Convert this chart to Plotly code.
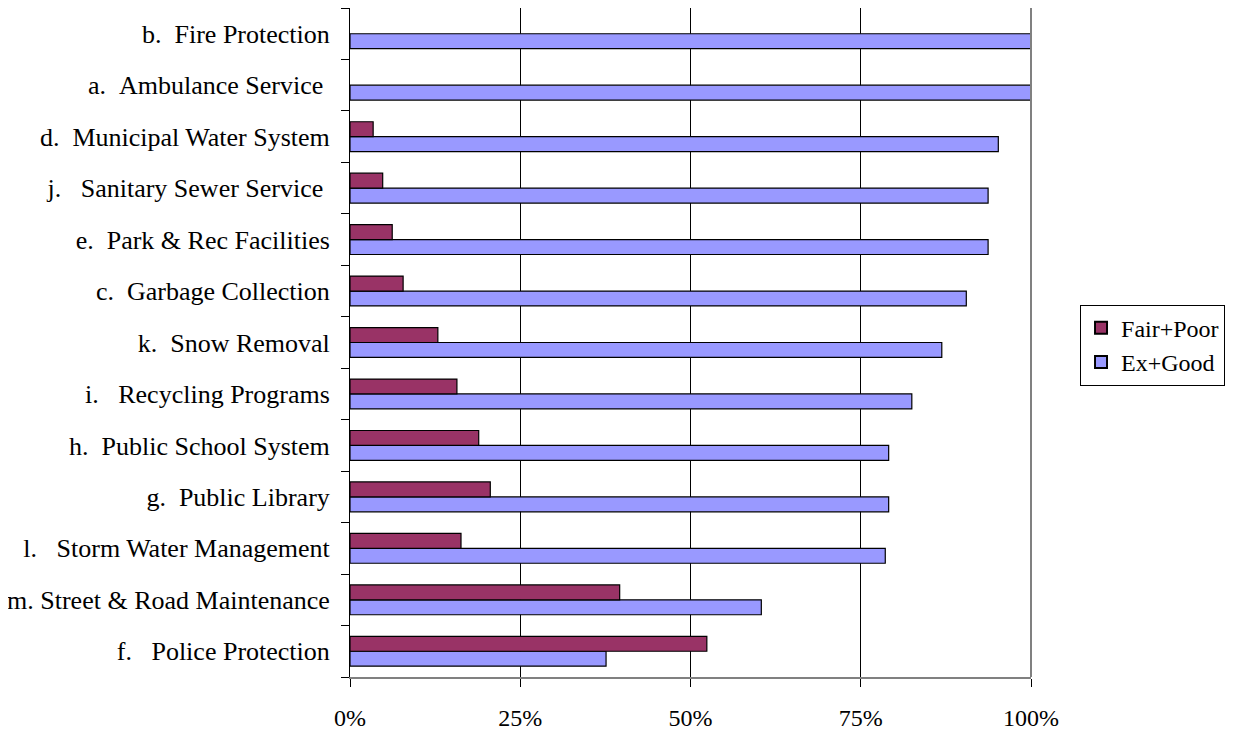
import plotly.graph_objects as go

NB = "\u00a0"
categories = [
    "f." + NB*3 + "Police Protection",
    "m." + NB + "Street & Road Maintenance",
    "l." + NB*3 + "Storm Water Management",
    "g." + NB*2 + "Public Library",
    "h." + NB*2 + "Public School System",
    "i." + NB*3 + "Recycling Programs",
    "k." + NB*2 + "Snow Removal",
    "c." + NB*2 + "Garbage Collection",
    "e." + NB*2 + "Park & Rec Facilities",
    "j." + NB*3 + "Sanitary Sewer Service" + NB,
    "d." + NB*2 + "Municipal Water System",
    "a." + NB*2 + "Ambulance Service" + NB,
    "b." + NB*2 + "Fire Protection",
]
fair_poor = [52.4, 39.6, 16.3, 20.6, 18.9, 15.7, 12.9, 7.8, 6.2, 4.8, 3.4, 0, 0]
ex_good = [37.6, 60.4, 78.6, 79.1, 79.1, 82.5, 86.9, 90.5, 93.7, 93.7, 95.2, 100, 100]
tick_vals = [0, 25, 50, 75, 100]
tick_text = ["0%", "25%", "50%", "75%", "100%"]

font = "Liberation Serif, Times New Roman, serif"

def outline(vals):
    return [0 if v == 0 else 1.2 for v in vals]

fig = go.Figure()
fig.add_trace(go.Bar(
    y=categories, x=ex_good, orientation="h", name="Ex+Good",
    marker=dict(color="#9999FF", line=dict(color="#000000", width=outline(ex_good))),
))
fig.add_trace(go.Bar(
    y=categories, x=fair_poor, orientation="h", name="Fair+Poor",
    marker=dict(color="#993366", line=dict(color="#000000", width=outline(fair_poor))),
))

fig.update_layout(
    width=1227, height=723,
    margin=dict(l=342, r=204, t=0, b=54, autoexpand=False),
    paper_bgcolor="white", plot_bgcolor="white",
    barmode="group", bargap=0.42, bargroupgap=0,
    font=dict(family=font, size=25, color="black"),
    showlegend=True,
    legend=dict(
        traceorder="reversed",
        x=1.072, y=0.496, xanchor="left", yanchor="middle",
        bordercolor="#000000", borderwidth=1,
        font=dict(family=font, size=24),
        itemsizing="constant", itemwidth=30, tracegroupgap=0,
    ),
    xaxis=dict(
        range=[0, 100], tickvals=tick_vals, ticktext=tick_text,
        showgrid=True, gridcolor="#000000", gridwidth=1,
        showline=True, linecolor="#808080", linewidth=2, mirror=True,
        ticks="outside", ticklen=8, tickcolor="#000000",
        ticklabelstandoff=10, zeroline=False, automargin=False,
        tickfont=dict(family=font, size=24),
    ),
    yaxis=dict(
        type="category", categoryorder="array", categoryarray=categories,
        showgrid=False, showline=True, linecolor="#000000", linewidth=1,
        ticks="outside", ticklen=8, tickcolor="#000000", tickson="boundaries",
        ticklabelstandoff=14, automargin=False,
        tickfont=dict(family=font, size=26),
    ),
    shapes=[dict(type="line", xref="paper", yref="paper", x0=1, x1=1, y0=0, y1=1,
                 line=dict(color="#808080", width=2))],
)

fig.write_html("out.html")
